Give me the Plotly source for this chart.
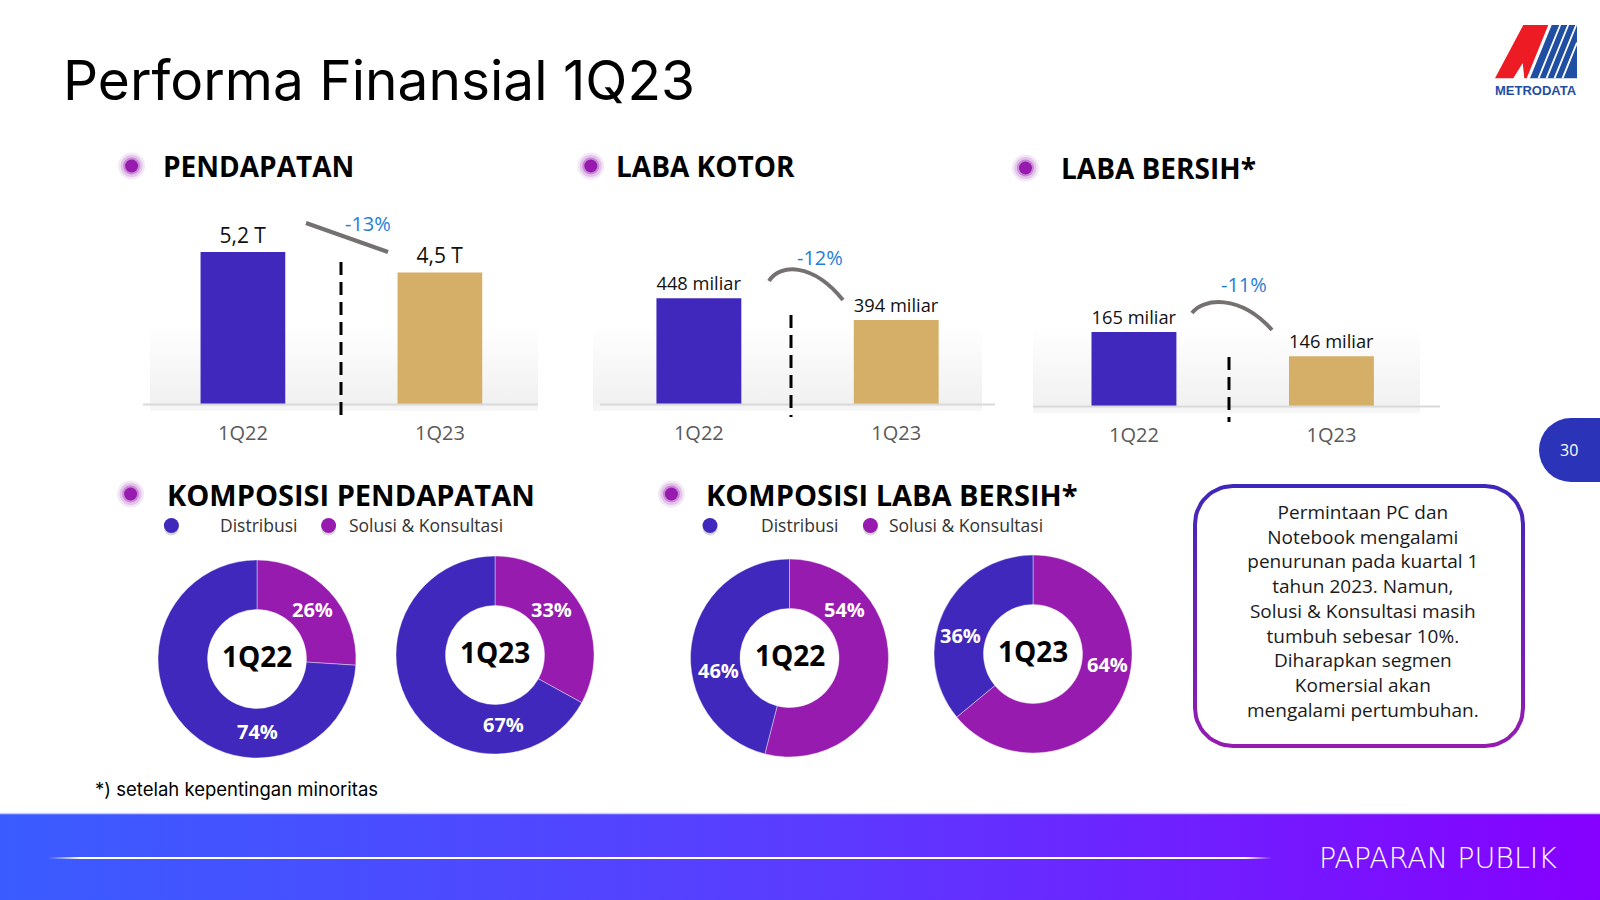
import math
import plotly.graph_objects as go

# ---------------- data ----------------
periods = ["1Q22", "1Q23"]
pendapatan = [5.2, 4.5]
pendapatan_text = ["5,2 T", "4,5 T"]
laba_kotor = [448, 394]
laba_kotor_text = ["448 miliar", "394 miliar"]
laba_bersih = [165, 146]
laba_bersih_text = ["165 miliar", "146 miliar"]
growth_text = ["-13%", "-12%", "-11%"]
segments = ["Distribusi", "Solusi & Konsultasi"]
pend_mix_1q22 = [74, 26]
pend_mix_1q23 = [67, 33]
laba_mix_1q22 = [46, 54]
laba_mix_1q23 = [36, 64]
title_text = "Performa Finansial 1Q23"
section_titles = ["PENDAPATAN", "LABA KOTOR", "LABA BERSIH*",
                  "KOMPOSISI PENDAPATAN", "KOMPOSISI LABA BERSIH*"]
note_lines = ["Permintaan PC dan", "Notebook mengalami", "penurunan pada kuartal 1",
              "tahun 2023. Namun,", "Solusi & Konsultasi masih", "tumbuh sebesar 10%.",
              "Diharapkan segmen", "Komersial akan", "mengalami pertumbuhan."]
footnote_text = "*) setelah kepentingan minoritas"
footer_text = "PAPARAN PUBLIK"
page_number = "30"
logo_text = "METRODATA"

# ---------------- style ----------------
W, H = 1600, 900
BLUE = "#3F28BB"
PURPLE = "#981BB0"
GOLD = "#D5AE68"
CONNECT = "#767171"
PCT_BLUE = "#1F7ED6"
FONT = "Open Sans"


def fx(x):
    return x / W


def fy(y):
    return 1 - y / H


def rrect(x0, y0, x1, y1, r, n=14):
    pts = []
    corners = [(x1 - r, y0 + r, -90, 0), (x1 - r, y1 - r, 0, 90),
               (x0 + r, y1 - r, 90, 180), (x0 + r, y0 + r, 180, 270)]
    for cx, cy, a0, a1 in corners:
        for i in range(n + 1):
            a = math.radians(a0 + (a1 - a0) * i / n)
            pts.append((cx + r * math.cos(a), cy + r * math.sin(a)))
    pts.append(pts[0])
    return [p[0] for p in pts], [p[1] for p in pts]


fig = go.Figure()
annotations = []
shapes = []


def ann(text, x, y, size, color="#000", bold=False, family=FONT,
        xanchor="center", yanchor="middle", align="center", weight=None):
    annotations.append(dict(
        text=text, x=x, y=y, xref="x", yref="y", showarrow=False,
        xanchor=xanchor, yanchor=yanchor, align=align,
        font=dict(family=family, size=size, color=color,
                  weight=weight if weight else (700 if bold else 400))))


# ---------- footer band (page axis) ----------
fig.add_trace(go.Scatter(
    x=[0, W, W, 0, 0], y=[813, 813, H, H, 813], mode="lines", fill="toself",
    line=dict(width=0),
    fillgradient=dict(type="horizontal",
                      colorscale=[[0, "#3A5CFF"], [0.5, "#5A3CFF"], [1, "#8600FF"]],
                      start=0, stop=W),
    hoverinfo="skip", showlegend=False, xaxis="x", yaxis="y"))
fig.add_trace(go.Scatter(
    x=[48, 80, 1245, 1272, 1245, 80, 48], y=[858, 856.9, 856.9, 858, 859.1, 859.1, 858],
    mode="lines", fill="toself", fillcolor="white", line=dict(width=0),
    hoverinfo="skip", showlegend=False, xaxis="x", yaxis="y"))
shapes.append(dict(type="line", xref="x", yref="y", x0=0, x1=W, y0=813.5, y1=813.5,
                   line=dict(color="#C9CCF3", width=1.5)))

# ---------- note box with gradient border ----------
bx, by = rrect(1193, 484, 1525, 748, 40)
fig.add_trace(go.Scatter(
    x=bx, y=by, mode="lines", fill="toself", line=dict(width=0),
    fillgradient=dict(type="vertical", colorscale=[[0, "#3F27BA"], [1, "#961BB0"]],
                      start=484, stop=748),
    hoverinfo="skip", showlegend=False, xaxis="x", yaxis="y"))
ix, iy = rrect(1197, 488, 1521, 744, 36)
fig.add_trace(go.Scatter(
    x=ix, y=iy, mode="lines", fill="toself", fillcolor="white", line=dict(width=0),
    hoverinfo="skip", showlegend=False, xaxis="x", yaxis="y"))
ann("<br>".join(note_lines), 1363, 611, 19, "#1A1A1A")

# ---------- bar panels ----------
panels = [
    dict(vals=pendapatan, text=pendapatan_text, dom=(144.4, 538.4), base=404, top=200,
         yr=[0, 6.98], shade=(150, 538), axis=(143, 538), dash=(341, 262, 420),
         growth=(368, 223), conn="M306,223 L388,252"),
    dict(vals=laba_kotor, text=laba_kotor_text, dom=(600.2, 994.9), base=404, top=200,
         yr=[185, 692.5], shade=(593, 982), axis=(600, 995), dash=(791, 315, 417),
         growth=(820, 257), conn="M769,281 C780,264 812,262 843,300"),
    dict(vals=laba_bersih, text=laba_bersih_text, dom=(1035.2, 1430.2), base=406, top=200,
         yr=[107, 268.4], shade=(1033, 1420), axis=(1033, 1440), dash=(1229, 357, 422),
         growth=(1244, 284), conn="M1192,313 C1203,298 1240,294 1272,330"),
]

layout_axes = {}
for i, p in enumerate(panels):
    k = i + 2
    fig.add_trace(go.Scatter(
        x=[p["shade"][0], p["shade"][1], p["shade"][1], p["shade"][0], p["shade"][0]],
        y=[p["base"] - 80, p["base"] - 80, p["base"] + 7, p["base"] + 7, p["base"] - 80],
        mode="lines", fill="toself", line=dict(width=0),
        fillgradient=dict(type="vertical",
                          colorscale=[[0, "rgba(0,0,0,0)"], [0.9, "rgba(0,0,0,0.055)"],
                                      [1, "rgba(0,0,0,0.03)"]],
                          start=p["base"] - 80, stop=p["base"] + 7),
        hoverinfo="skip", showlegend=False, xaxis="x", yaxis="y"))
    fig.add_trace(go.Bar(
        x=periods, y=p["vals"], marker=dict(color=[BLUE, GOLD], line=dict(width=0)),
        width=0.43, text=p["text"], textposition="outside", cliponaxis=False,
        textfont=dict(family=FONT, size=21, color="#111111"),
        hoverinfo="skip", showlegend=False, xaxis=f"x{k}", yaxis=f"y{k}"))
    layout_axes[f"xaxis{k}"] = dict(
        domain=[fx(p["dom"][0]), fx(p["dom"][1])], anchor=f"y{k}", type="category",
        showgrid=False, zeroline=False, showline=False, ticks="outside", ticklen=11,
        tickcolor="rgba(0,0,0,0)", tickfont=dict(family=FONT, size=20, color="#595959"),
        fixedrange=True)
    layout_axes[f"yaxis{k}"] = dict(
        domain=[fy(p["base"]), fy(p["top"])], anchor=f"x{k}", range=p["yr"],
        visible=False, fixedrange=True)
    shapes.append(dict(type="line", xref="x", yref="y", x0=p["axis"][0], x1=p["axis"][1],
                       y0=p["base"] + 0.5, y1=p["base"] + 0.5, layer="above",
                       line=dict(color="#D9D9D9", width=2)))
    shapes.append(dict(type="line", xref="x", yref="y", x0=p["dash"][0], x1=p["dash"][0],
                       y0=p["dash"][1], y1=p["dash"][2], layer="above",
                       line=dict(color="#000000", width=3, dash="13px,7px")))
    shapes.append(dict(type="path", xref="x", yref="y", path=p["conn"], layer="above",
                       line=dict(color=CONNECT, width=4)))
    ann(growth_text[i], p["growth"][0], p["growth"][1], 20, PCT_BLUE)

# ---------- donuts ----------
# (values, domain left, domain top, centre label, label spots for [Distribusi, Solusi])
donuts = [
    (pend_mix_1q22, 158, 560, periods[0], [(257, 731), (312, 609)]),
    (pend_mix_1q23, 396, 556, periods[1], [(503, 724), (551, 609)]),
    (laba_mix_1q22, 690.5, 559, periods[0], [(718, 670), (844, 609)]),
    (laba_mix_1q23, 934, 555, periods[1], [(960, 635), (1107, 664)]),
]
D = 198
for vals, x0, y0, lab, spots in donuts:
    fig.add_trace(go.Pie(
        labels=segments[::-1], values=vals[::-1], hole=0.5, sort=False,
        direction="clockwise", rotation=0,
        marker=dict(colors=[PURPLE, BLUE], line=dict(color="rgba(255,255,255,0.5)", width=0.8)),
        textinfo="none",
        domain=dict(x=[fx(x0), fx(x0 + D)], y=[fy(y0 + D), fy(y0)]),
        showlegend=False, hoverinfo="skip"))
    for v, (sx, sy) in zip(vals, spots):
        ann(f"{v}%", sx, sy, 20, "white", bold=True)
    ann(lab, x0 + D / 2, y0 + D / 2 - 3, 28, "#000000", bold=True)

# ---------- headers with glowing bullets ----------
headers = [(section_titles[0], 131.6, 161, 166), (section_titles[1], 590.8, 614, 166),
           (section_titles[2], 1025.5, 1059, 168), (section_titles[3], 130.6, 165, 494),
           (section_titles[4], 671.4, 704, 494)]
bx_, by_ = [h[1] for h in headers], [h[3] for h in headers]
for sz, op in [(27, 0.10), (22, 0.18), (17, 0.35)]:
    fig.add_trace(go.Scatter(x=bx_, y=by_, mode="markers",
                             marker=dict(size=sz, color=PURPLE, opacity=op, line=dict(width=0)),
                             hoverinfo="skip", showlegend=False, xaxis="x", yaxis="y"))
fig.add_trace(go.Scatter(x=bx_, y=by_, mode="markers",
                         marker=dict(size=13, color=PURPLE, line=dict(width=0)),
                         hoverinfo="skip", showlegend=False, xaxis="x", yaxis="y"))
for txt, _, tx, ty in headers:
    ann(txt, tx, ty, 28 if ty < 300 else 29, "#000000", bold=True, xanchor="left")

# ---------- custom legends ----------
leg_dots_x = [171.4, 328.6, 710, 870.4]
leg_cols = [BLUE, PURPLE, BLUE, PURPLE]
leg_text_x = [218.4, 347, 759, 886.7]
fig.add_trace(go.Scatter(x=leg_dots_x, y=[528] * 4, mode="markers",
                         marker=dict(size=15, color="rgba(0,0,0,0.16)", line=dict(width=0)),
                         hoverinfo="skip", showlegend=False, xaxis="x", yaxis="y"))
fig.add_trace(go.Scatter(x=leg_dots_x, y=[525.5] * 4, mode="markers",
                         marker=dict(size=15, color=leg_cols, line=dict(width=0)),
                         hoverinfo="skip", showlegend=False, xaxis="x", yaxis="y"))
for j, tx in enumerate(leg_text_x):
    ann(segments[j % 2], tx, 525, 17.5, "#333333", xanchor="left")

# ---------- title, footnote, footer text ----------
ann(title_text, 61, 80, 55, "#000000", family="Inter", xanchor="left")
ann(footnote_text, 93, 789, 18.5, "#000000", family="Inter", xanchor="left")
ann(footer_text, 1559, 858, 28.5, "white", family="DejaVu Sans", xanchor="right", weight=300)

# ---------- page tab ----------
shapes.append(dict(type="circle", xref="x", yref="y", x0=1539, x1=1603, y0=418, y1=482,
                   fillcolor="#2B34B8", line=dict(width=0)))
shapes.append(dict(type="rect", xref="x", yref="y", x0=1571, x1=1600, y0=418, y1=482,
                   fillcolor="#2B34B8", line=dict(width=0)))
ann(page_number, 1569, 450, 16, "white")

# ---------- logo ----------
shapes.append(dict(type="path", xref="x", yref="y", fillcolor="#ED1C24", line=dict(width=0),
                   path="M1495,78.3 L1523.3,25 L1548.3,25 L1526.7,78.3 L1524.3,78.3 "
                        "L1522.7,63 L1513.3,78.3 Z"))
shapes.append(dict(type="path", xref="x", yref="y", fillcolor="#1F4EA3", line=dict(width=0),
                   path="M1530,78.3 L1551.7,25 L1577,25 L1577,78.3 Z"))
for x0 in [1538.5, 1546.5, 1554.5, 1562.5]:
    x1 = x0 + 21.7
    y1 = 25
    if x1 > 1577:
        y1 = 78.3 - (1577 - x0) / 21.7 * 53.3
        x1 = 1577
    shapes.append(dict(type="line", xref="x", yref="y", x0=x0, y0=78.3, x1=x1, y1=y1,
                       line=dict(color="white", width=1.8)))
ann(logo_text, 1536, 90.5, 13, "#1F4EA3", bold=True, family="Liberation Sans")

fig.update_layout(
    width=W, height=H, margin=dict(l=0, r=0, t=0, b=0),
    paper_bgcolor="white", plot_bgcolor="rgba(0,0,0,0)",
    xaxis=dict(range=[0, W], domain=[0, 1], visible=False, fixedrange=True),
    yaxis=dict(range=[H, 0], domain=[0, 1], visible=False, fixedrange=True),
    annotations=annotations, shapes=shapes, hovermode=False, showlegend=False,
    bargap=0.5, **layout_axes)

fig.write_html("out.html", config={"displayModeBar": False})
